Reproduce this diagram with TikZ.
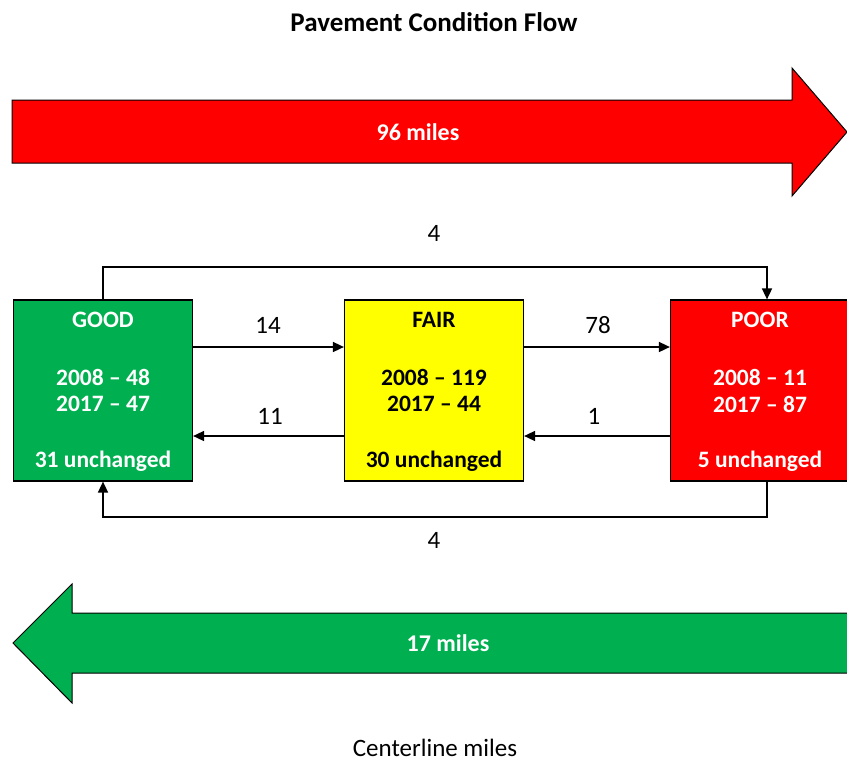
\documentclass[tikz,border=0pt]{standalone}
\usepackage{fontspec}
\setmainfont{Carlito}
\usetikzlibrary{arrows.meta,calc}
\definecolor{xgreen}{HTML}{00B050}
\definecolor{xred}{HTML}{FF0000}
\definecolor{xyellow}{HTML}{FFFF00}
\begin{document}
\begin{tikzpicture}[x=1pt,y=-1pt,
  statebox/.style={draw=black,line width=1.2pt,minimum width=179pt,minimum height=181pt,inner sep=0pt},
  flow/.style={draw=black,line width=1.6pt,-{Triangle[length=11pt,width=10pt]}},
  boxtxt/.style={font=\fontsize{23.5}{28}\selectfont\bfseries,inner sep=0pt},
  arrtxt/.style={font=\fontsize{24}{28}\selectfont\bfseries,inner sep=0pt,text=white},
  numtxt/.style={font=\fontsize{25}{30}\selectfont,inner sep=0pt}]
\useasboundingbox (0,0) rectangle (847,764);
% title
\node[font=\fontsize{27}{32}\selectfont\bfseries,inner sep=0pt] (title) at (434,22) {Pavement Condition Flow};
% big red arrow
\filldraw[draw=black,line width=1pt,fill=xred] (12,100) -- (792,100) -- (792,68) -- (847,132) -- (792,196) -- (792,163) -- (12,163) -- cycle;
\node[arrtxt] (red) at (418,132) {96 miles};
% big green arrow
\filldraw[draw=black,line width=1pt,fill=xgreen] (848,613) -- (72,613) -- (72,584) -- (13,643) -- (72,703) -- (72,673) -- (848,673) -- cycle;
\node[arrtxt] (green) at (448,643) {17 miles};
% boxes
\node[statebox,fill=xgreen] (good) at (103,390.5) {};
\node[statebox,fill=xyellow] (fair) at (434,390.5) {};
\node[statebox,fill=xred] (poor) at (760,390.5) {};
% box texts
\node[boxtxt,text=white] (g1) at (103,320) {GOOD};
\node[boxtxt,text=white] (g2) at (103,377) {2008 – 48};
\node[boxtxt,text=white] (g3) at (103,404) {2017 – 47};
\node[boxtxt,text=white] (g4) at (103,461) {31 unchanged};
\node[boxtxt,text=black] (f1) at (434,320) {FAIR};
\node[boxtxt,text=black] (f2) at (434,377) {2008 – 119};
\node[boxtxt,text=black] (f3) at (434,404) {2017 – 44};
\node[boxtxt,text=black] (f4) at (434,461) {30 unchanged};
\node[boxtxt,text=white] (p1) at (760,320) {POOR};
\node[boxtxt,text=white] (p2) at (760,377) {2008 – 11};
\node[boxtxt,text=white] (p3) at (760,404) {2017 – 87};
\node[boxtxt,text=white] (p4) at (760,461) {5 unchanged};
% connectors
\draw[flow] ([yshift=43.5pt]good.east) -- ([yshift=43.5pt]fair.west);
\draw[flow] ([yshift=-45.5pt]fair.west) -- ([yshift=-45.5pt]good.east);
\draw[flow] ([yshift=43.5pt]fair.east) -- ([yshift=43.5pt]poor.west);
\draw[flow] ([yshift=-45.5pt]poor.west) -- ([yshift=-45.5pt]fair.east);
\draw[flow] (good.north) -- (good.north |- 0,267) -| ([xshift=7pt]poor.north);
\draw[flow] ([xshift=7pt]poor.south) -- ([xshift=7pt]poor.south |- 0,517) -| (good.south);
% labels
\node[numtxt] (l14) at (268,325) {14};
\node[numtxt] (l11) at (270,416) {11};
\node[numtxt] (l78) at (598,325) {78};
\node[numtxt] (l1) at (594,416) {1};
\node[numtxt] (ltop) at (434,233) {4};
\node[numtxt] (lbot) at (434,540) {4};
\node[numtxt] (foot) at (435,748) {Centerline miles};
\end{tikzpicture}
\end{document}
